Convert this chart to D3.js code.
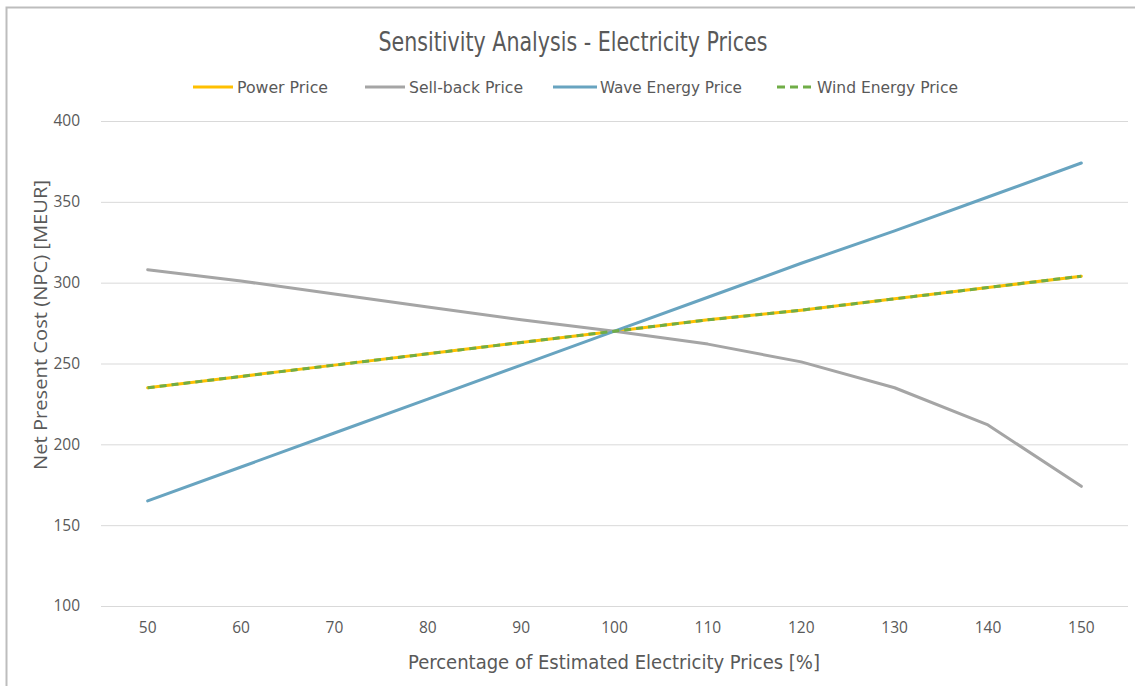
<!DOCTYPE html>
<html>
<head>
<meta charset="utf-8">
<script src="https://cdn.jsdelivr.net/npm/d3@7"></script>
<style>
  html, body { margin: 0; padding: 0; background: #fff; }
  svg { display: block; }
  text { fill: #595959; }
</style>
</head>
<body>
<script>
// Percentage of estimated electricity prices (x categories)
const categories = [50, 60, 70, 80, 90, 100, 110, 120, 130, 140, 150];

// Net present cost (MEUR) per scenario
const powerPrice     = [235, 242, 249, 256, 263, 270, 277, 283, 290, 297, 304];
const sellbackPrice  = [308, 301, 293, 285, 277, 270, 262, 251, 235, 212, 174];
const waveEnergyPrice= [165, 186, 207, 228, 249, 270, 291, 312, 332, 353, 374];
const windEnergyPrice= [235, 242, 249, 256, 263, 270, 277, 283, 290, 297, 304];

const yTicks = [100, 150, 200, 250, 300, 350, 400];

const seriesNames = ["Power Price", "Sell-back Price", "Wave Energy Price", "Wind Energy Price"];
const seriesValues = [powerPrice, sellbackPrice, waveEnergyPrice, windEnergyPrice];
const seriesColors = ["#FFC000", "#A5A5A5", "#68A4C0", "#70AD47"];
const seriesDash = [null, null, null, "7,5"];

const W = 1135, H = 686;
const plot = { left: 101, right: 1128, top: 121, bottom: 606 };

const svg = d3.select("body").append("svg").attr("width", W).attr("height", H);

// chart frame
svg.append("path")
  .attr("d", `M6.5,${H} V7.5 H${W}`)
  .attr("fill", "none").attr("stroke", "#BDBDBD").attr("stroke-width", 2);

const x = d3.scaleBand().domain(categories).range([plot.left, plot.right]);
const xc = d => x(d) + x.bandwidth() / 2;
const y = d3.scaleLinear().domain([100, 400]).range([plot.bottom, plot.top]);

// horizontal gridlines
svg.append("g").selectAll("line").data(yTicks).join("line")
  .attr("x1", plot.left).attr("x2", plot.right)
  .attr("y1", d => y(d) + 0.5).attr("y2", d => y(d) + 0.5)
  .attr("stroke", "#D9D9D9").attr("stroke-width", 1);

const tickFont = "'Open Sans', 'Noto Sans', sans-serif";

// y axis labels
const yAxis = svg.append("g")
  .attr("transform", `translate(${plot.left},0)`)
  .call(d3.axisLeft(y).tickValues(yTicks).tickSize(0).tickPadding(21));
yAxis.select(".domain").remove();
yAxis.selectAll("text").attr("font-family", tickFont).attr("font-size", 15.5).attr("fill", "#595959");

// x axis labels
const xAxis = svg.append("g")
  .attr("transform", `translate(0,${plot.bottom})`)
  .call(d3.axisBottom(x).tickSize(0).tickPadding(16));
xAxis.select(".domain").remove();
xAxis.selectAll("text").attr("font-family", tickFont).attr("font-size", 15.5).attr("fill", "#595959");

// series lines
const line = d3.line().x((d, i) => xc(categories[i])).y(d => y(d));
seriesValues.forEach((vals, k) => {
  svg.append("path")
    .datum(vals)
    .attr("d", line)
    .attr("fill", "none")
    .attr("stroke", seriesColors[k])
    .attr("stroke-width", 3)
    .attr("stroke-linecap", seriesDash[k] ? "butt" : "round")
    .attr("stroke-linejoin", "round")
    .attr("stroke-dasharray", seriesDash[k]);
});

// title
svg.append("text")
  .attr("x", 573).attr("y", 51)
  .attr("text-anchor", "middle")
  .attr("font-family", "'Liberation Sans Narrow', 'DejaVu Sans Condensed', sans-serif")
  .attr("font-size", 26)
  .attr("textLength", 389).attr("lengthAdjust", "spacingAndGlyphs")
  .text("Sensitivity Analysis - Electricity Prices");

// legend
const legendItems = [
  { line: [193, 233], text: 237, w: 91 },
  { line: [365, 405], text: 409, w: 114 },
  { line: [553, 597], text: 600, w: 142 },
  { line: [777, 812], text: 817, w: 141 }
];
const legend = svg.append("g");
legendItems.forEach((it, k) => {
  legend.append("line")
    .attr("x1", it.line[0]).attr("x2", it.line[1])
    .attr("y1", 87).attr("y2", 87)
    .attr("stroke", seriesColors[k]).attr("stroke-width", 3)
    .attr("stroke-dasharray", seriesDash[k] ? "8,5" : null);
  legend.append("text")
    .attr("x", it.text).attr("y", 92.5)
    .attr("font-family", "'Liberation Sans Narrow', 'DejaVu Sans Condensed', sans-serif")
    .attr("font-size", 16)
    .attr("textLength", it.w).attr("lengthAdjust", "spacingAndGlyphs")
    .text(seriesNames[k]);
});

// axis titles
svg.append("text")
  .attr("transform", `translate(47,${325}) rotate(-90)`)
  .attr("text-anchor", "middle")
  .attr("font-family", tickFont)
  .attr("font-size", 19)
  .attr("textLength", 290).attr("lengthAdjust", "spacingAndGlyphs")
  .text("Net Present Cost (NPC) [MEUR]");

svg.append("text")
  .attr("x", 614).attr("y", 669)
  .attr("text-anchor", "middle")
  .attr("font-family", "'Liberation Sans Narrow', 'DejaVu Sans Condensed', sans-serif")
  .attr("font-size", 20)
  .attr("textLength", 412).attr("lengthAdjust", "spacingAndGlyphs")
  .text("Percentage of Estimated Electricity Prices [%]");
</script>
</body>
</html>
